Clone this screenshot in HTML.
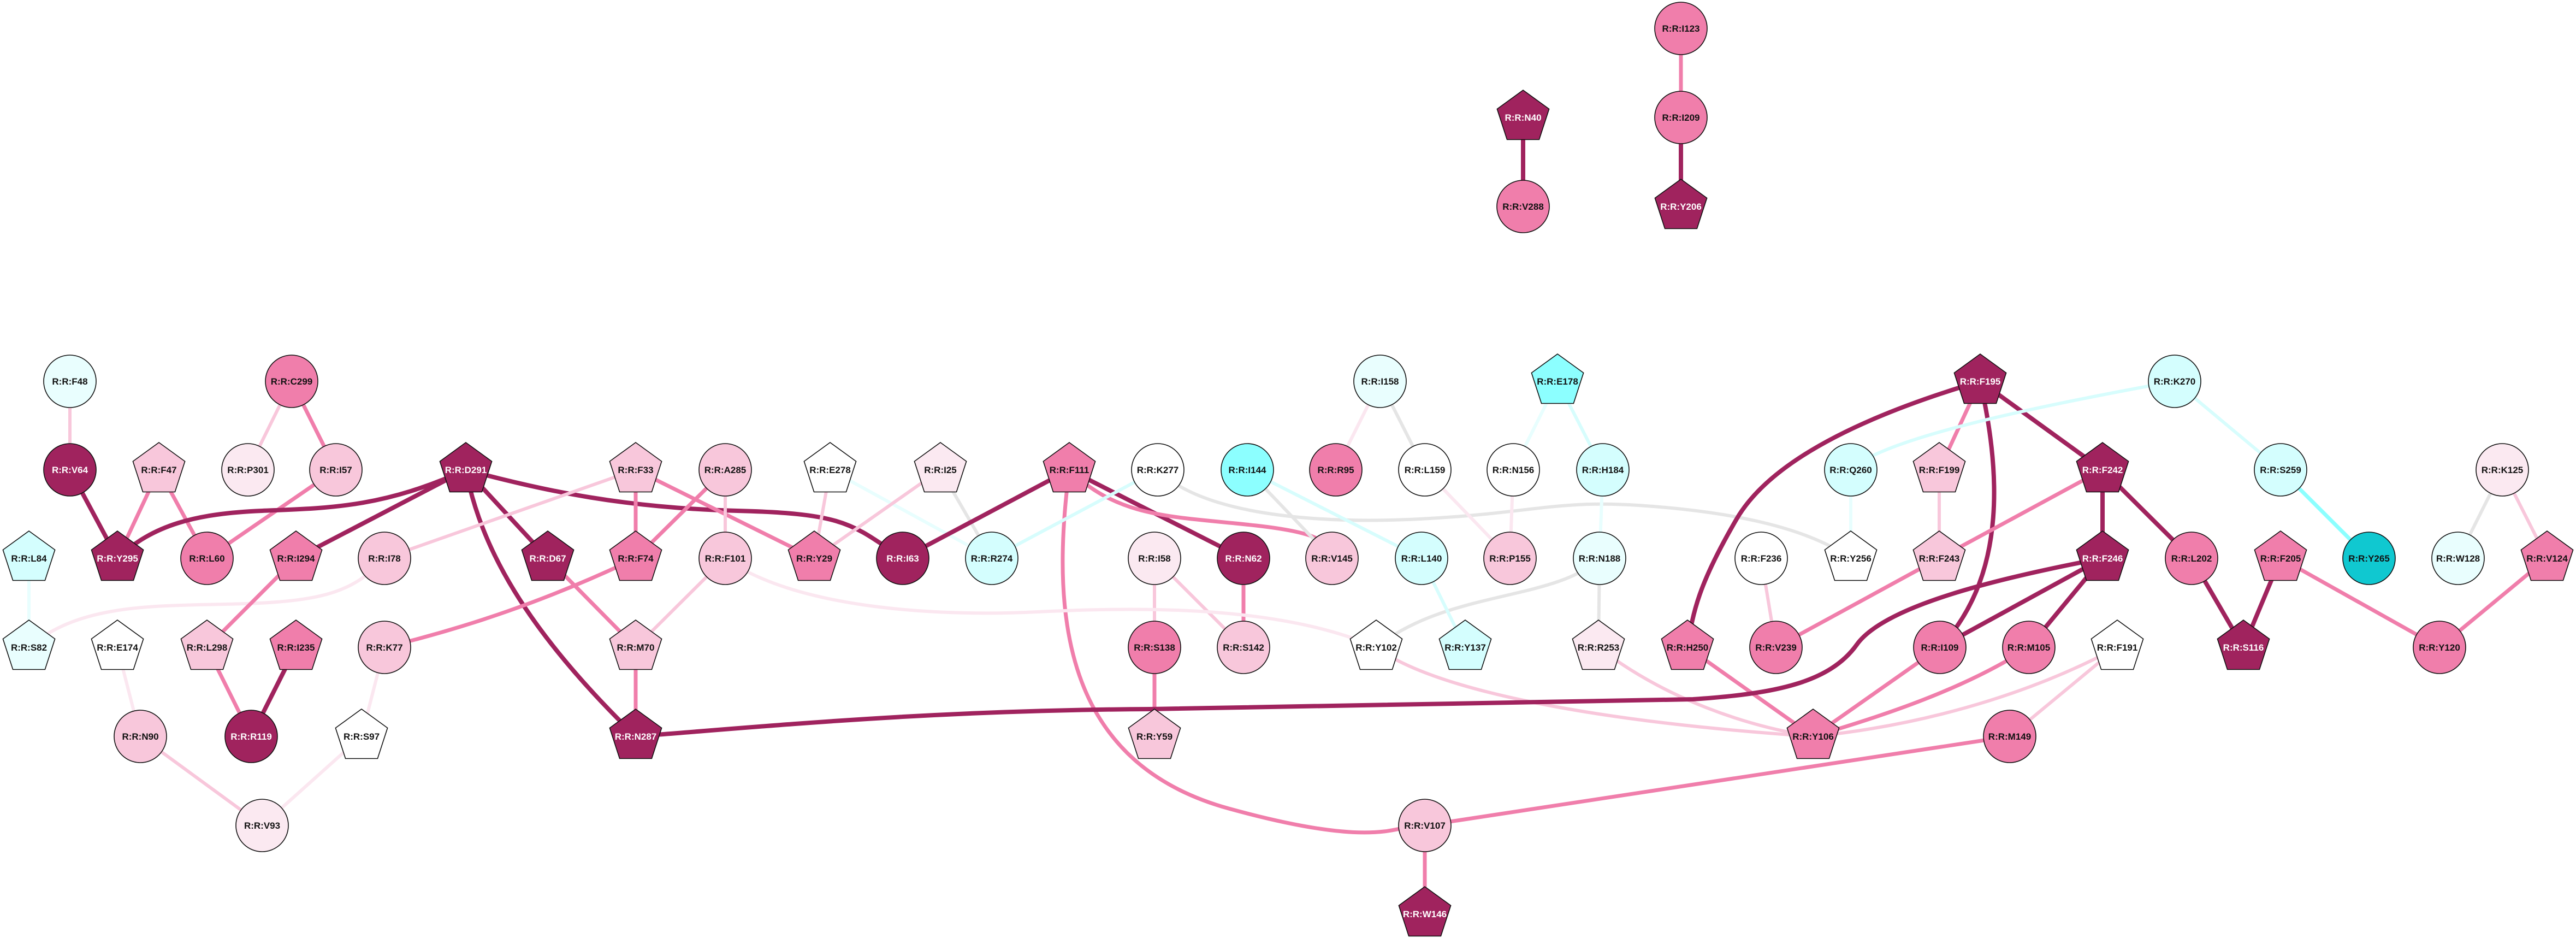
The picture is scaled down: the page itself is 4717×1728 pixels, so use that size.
<!DOCTYPE html>
<html><head><meta charset="utf-8"><style>
html,body{margin:0;padding:0;background:#fff;}
svg{display:block;}
text{font-family:"Liberation Sans",sans-serif;font-weight:bold;font-size:17px;text-anchor:middle;fill:#111;}
text.w{fill:#fff;}
.n{stroke:#111;stroke-width:1.6;}
path,line{fill:none;stroke-linecap:butt;}
.dk{stroke:#A0235E;stroke-width:8;}
.md{stroke:#F07EAB;stroke-width:7;}
.lp{stroke:#F8C7DB;stroke-width:6;}
.vl{stroke:#FBE7F0;stroke-width:6;}
.gy{stroke:#E5E5E5;stroke-width:6;}
.cy{stroke:#D7FDFD;stroke-width:6;}
.lc{stroke:#E8FEFE;stroke-width:6;}
.bc{stroke:#8CFFFF;stroke-width:7;}
</style></head><body>
<svg width="4717" height="1728" viewBox="0 0 4717 1728" xmlns="http://www.w3.org/2000/svg">
<defs><polygon id="p" class="n" points="0,-50 47.6,-15.5 29.4,40.5 -29.4,40.5 -47.6,-15.5"/></defs>
<line class="md" x1="3078" y1="52" x2="3078" y2="215"/>
<line class="dk" x1="3078" y1="215" x2="3078" y2="378"/>
<line class="dk" x1="2789" y1="215" x2="2789" y2="378"/>
<line class="lp" x1="128" y1="698" x2="128" y2="860"/>
<line class="dk" x1="128" y1="860" x2="215" y2="1022"/>
<line class="md" x1="291" y1="860" x2="215" y2="1022"/>
<line class="md" x1="291" y1="860" x2="379" y2="1022"/>
<line class="lp" x1="534" y1="698" x2="454" y2="860"/>
<line class="md" x1="534" y1="698" x2="615" y2="860"/>
<line class="md" x1="615" y1="860" x2="379" y2="1022"/>
<path class="dk" d="M853,860 C700,930 600,930 480,935 S280,960 215,1022"/>
<line class="dk" x1="853" y1="860" x2="542" y2="1022"/>
<line class="dk" x1="853" y1="860" x2="1003" y2="1022"/>
<path class="dk" d="M853,860 C880,1000 960,1150 1164,1348"/>
<path class="dk" d="M853,860 C1000,900 1150,930 1350,935 S1560,960 1653,1022"/>
<line class="lp" x1="1164" y1="860" x2="704" y2="1022"/>
<line class="md" x1="1164" y1="860" x2="1164" y2="1022"/>
<line class="md" x1="1164" y1="860" x2="1491" y2="1022"/>
<line class="md" x1="1328" y1="860" x2="1164" y2="1022"/>
<line class="lp" x1="1328" y1="860" x2="1328" y2="1022"/>
<line class="lp" x1="1520" y1="860" x2="1491" y2="1022"/>
<line class="lc" x1="1520" y1="860" x2="1816" y2="1022"/>
<line class="lp" x1="1722" y1="860" x2="1491" y2="1022"/>
<line class="gy" x1="1722" y1="860" x2="1816" y2="1022"/>
<line class="dk" x1="1958" y1="860" x2="1653" y2="1022"/>
<line class="dk" x1="1958" y1="860" x2="2277" y2="1022"/>
<path class="md" d="M1958,860 C2050,950 2150,945 2300,962 S2420,1000 2439,1022"/>
<path class="md" d="M1958,860 C1920,1150 1960,1400 2250,1480 S2560,1505 2609,1511"/>
<line class="cy" x1="2120" y1="860" x2="1816" y2="1022"/>
<path class="gy" d="M2120,860 C2200,940 2400,960 2600,950 S2850,915 3000,925 S3300,960 3389,1022"/>
<line class="gy" x1="2284" y1="860" x2="2439" y2="1022"/>
<line class="cy" x1="2284" y1="860" x2="2603" y2="1022"/>
<line class="vl" x1="2527" y1="698" x2="2446" y2="860"/>
<line class="gy" x1="2527" y1="698" x2="2609" y2="860"/>
<line class="vl" x1="2609" y1="860" x2="2765" y2="1022"/>
<line class="vl" x1="2771" y1="860" x2="2765" y2="1022"/>
<line class="lc" x1="2852" y1="698" x2="2771" y2="860"/>
<line class="cy" x1="2852" y1="698" x2="2935" y2="860"/>
<line class="lc" x1="2935" y1="860" x2="2929" y2="1022"/>
<path class="gy" d="M2929,1022 C2850,1100 2650,1080 2520,1185"/>
<line class="gy" x1="2929" y1="1022" x2="2927" y2="1185"/>
<line class="cy" x1="2603" y1="1022" x2="2683" y2="1185"/>
<line class="lp" x1="2114" y1="1022" x2="2114" y2="1185"/>
<line class="lp" x1="2114" y1="1022" x2="2277" y2="1185"/>
<line class="md" x1="2277" y1="1022" x2="2277" y2="1185"/>
<line class="md" x1="2114" y1="1185" x2="2114" y2="1348"/>
<line class="lp" x1="3225" y1="1022" x2="3252" y2="1185"/>
<path class="lp" d="M2520,1185 C2620,1260 2900,1320 3320,1348"/>
<path class="lp" d="M2927,1185 C3050,1280 3200,1330 3320,1348"/>
<line class="md" x1="3090" y1="1185" x2="3320" y2="1348"/>
<path class="dk" d="M3626,698 C3450,750 3250,830 3180,950 S3100,1120 3090,1185"/>
<line class="md" x1="3626" y1="698" x2="3551" y2="860"/>
<path class="dk" d="M3626,698 C3660,850 3680,1050 3552,1185"/>
<line class="dk" x1="3626" y1="698" x2="3850" y2="860"/>
<path class="cy" d="M3982,698 C3750,740 3450,800 3389,860"/>
<line class="cy" x1="3982" y1="698" x2="4176" y2="860"/>
<line class="lc" x1="3389" y1="860" x2="3389" y2="1022"/>
<line class="lp" x1="3551" y1="860" x2="3551" y2="1022"/>
<line class="md" x1="3850" y1="860" x2="3551" y2="1022"/>
<line class="dk" x1="3850" y1="860" x2="3850" y2="1022"/>
<line class="dk" x1="3850" y1="860" x2="4013" y2="1022"/>
<line class="md" x1="3551" y1="1022" x2="3252" y2="1185"/>
<path class="dk" d="M3850,1022 C3650,1060 3450,1110 3400,1180 S3250,1270 3100,1280 L2106,1298 C1700,1300 1400,1330 1164,1348"/>
<line class="dk" x1="3850" y1="1022" x2="3552" y2="1185"/>
<line class="dk" x1="3850" y1="1022" x2="3715" y2="1185"/>
<line class="dk" x1="4013" y1="1022" x2="4108" y2="1185"/>
<line class="dk" x1="4176" y1="1022" x2="4108" y2="1185"/>
<line class="md" x1="4176" y1="1022" x2="4467" y2="1185"/>
<line class="bc" x1="4176" y1="860" x2="4338" y2="1022"/>
<line class="gy" x1="4582" y1="860" x2="4501" y2="1022"/>
<line class="lp" x1="4582" y1="860" x2="4664" y2="1022"/>
<line class="md" x1="4664" y1="1022" x2="4467" y2="1185"/>
<line class="md" x1="3552" y1="1185" x2="3320" y2="1348"/>
<path class="md" d="M3715,1185 C3600,1260 3450,1310 3320,1348"/>
<path class="lp" d="M3877,1185 C3700,1280 3500,1330 3320,1348"/>
<line class="lp" x1="3877" y1="1185" x2="3680" y2="1348"/>
<line class="md" x1="3680" y1="1348" x2="2609" y2="1511"/>
<line class="md" x1="2609" y1="1511" x2="2609" y2="1673"/>
<line class="lc" x1="53" y1="1022" x2="53" y2="1185"/>
<path class="vl" d="M53,1185 C150,1100 300,1110 450,1105 S650,1080 704,1022"/>
<path class="vl" d="M1328,1022 C1450,1110 1700,1130 1900,1120 S2350,1110 2520,1185"/>
<line class="md" x1="542" y1="1022" x2="379" y2="1185"/>
<line class="md" x1="379" y1="1185" x2="460" y2="1348"/>
<line class="dk" x1="542" y1="1185" x2="460" y2="1348"/>
<path class="md" d="M1164,1022 C1000,1100 850,1150 704,1185"/>
<line class="vl" x1="704" y1="1185" x2="662" y2="1348"/>
<line class="vl" x1="215" y1="1185" x2="257" y2="1348"/>
<line class="lp" x1="257" y1="1348" x2="480" y2="1511"/>
<line class="vl" x1="662" y1="1348" x2="480" y2="1511"/>
<line class="md" x1="1003" y1="1022" x2="1164" y2="1185"/>
<line class="lp" x1="1328" y1="1022" x2="1164" y2="1185"/>
<line class="md" x1="1164" y1="1185" x2="1164" y2="1348"/>
<circle class="n" cx="3078" cy="52" r="48" fill="#F07EAB"/><text x="3078" y="58">R:R:I123</text>
<circle class="n" cx="3078" cy="215" r="48" fill="#F07EAB"/><text x="3078" y="221">R:R:I209</text>
<use href="#p" x="3078" y="378" fill="#A0235E"/><text class="w" x="3078" y="384">R:R:Y206</text>
<use href="#p" x="2789" y="215" fill="#A0235E"/><text class="w" x="2789" y="221">R:R:N40</text>
<circle class="n" cx="2789" cy="378" r="48" fill="#F07EAB"/><text x="2789" y="384">R:R:V288</text>
<circle class="n" cx="128" cy="698" r="48" fill="#E9FEFE"/><text x="128" y="704">R:R:F48</text>
<circle class="n" cx="534" cy="698" r="48" fill="#F07EAB"/><text x="534" y="704">R:R:C299</text>
<circle class="n" cx="2527" cy="698" r="48" fill="#E9FEFE"/><text x="2527" y="704">R:R:I158</text>
<use href="#p" x="2852" y="698" fill="#8CFFFF"/><text x="2852" y="704">R:R:E178</text>
<use href="#p" x="3626" y="698" fill="#A0235E"/><text class="w" x="3626" y="704">R:R:F195</text>
<circle class="n" cx="3982" cy="698" r="48" fill="#D4FEFE"/><text x="3982" y="704">R:R:K270</text>
<circle class="n" cx="128" cy="860" r="48" fill="#A0235E"/><text class="w" x="128" y="866">R:R:V64</text>
<use href="#p" x="291" y="860" fill="#F8C7DB"/><text x="291" y="866">R:R:F47</text>
<circle class="n" cx="454" cy="860" r="48" fill="#FBE9F1"/><text x="454" y="866">R:R:P301</text>
<circle class="n" cx="615" cy="860" r="48" fill="#F8C7DB"/><text x="615" y="866">R:R:I57</text>
<use href="#p" x="853" y="860" fill="#A0235E"/><text class="w" x="853" y="866">R:R:D291</text>
<use href="#p" x="1164" y="860" fill="#F8C7DB"/><text x="1164" y="866">R:R:F33</text>
<circle class="n" cx="1328" cy="860" r="48" fill="#F8C7DB"/><text x="1328" y="866">R:R:A285</text>
<use href="#p" x="1520" y="860" fill="#FFFFFF"/><text x="1520" y="866">R:R:E278</text>
<use href="#p" x="1722" y="860" fill="#FBE9F1"/><text x="1722" y="866">R:R:I25</text>
<use href="#p" x="1958" y="860" fill="#F07EAB"/><text x="1958" y="866">R:R:F111</text>
<circle class="n" cx="2120" cy="860" r="48" fill="#FFFFFF"/><text x="2120" y="866">R:R:K277</text>
<circle class="n" cx="2284" cy="860" r="48" fill="#8CFFFF"/><text x="2284" y="866">R:R:I144</text>
<circle class="n" cx="2446" cy="860" r="48" fill="#F07EAB"/><text x="2446" y="866">R:R:R95</text>
<circle class="n" cx="2609" cy="860" r="48" fill="#FFFFFF"/><text x="2609" y="866">R:R:L159</text>
<circle class="n" cx="2771" cy="860" r="48" fill="#FFFFFF"/><text x="2771" y="866">R:R:N156</text>
<circle class="n" cx="2935" cy="860" r="48" fill="#D4FEFE"/><text x="2935" y="866">R:R:H184</text>
<circle class="n" cx="3389" cy="860" r="48" fill="#D4FEFE"/><text x="3389" y="866">R:R:Q260</text>
<use href="#p" x="3551" y="860" fill="#F8C7DB"/><text x="3551" y="866">R:R:F199</text>
<use href="#p" x="3850" y="860" fill="#A0235E"/><text class="w" x="3850" y="866">R:R:F242</text>
<circle class="n" cx="4176" cy="860" r="48" fill="#D4FEFE"/><text x="4176" y="866">R:R:S259</text>
<circle class="n" cx="4582" cy="860" r="48" fill="#FBE9F1"/><text x="4582" y="866">R:R:K125</text>
<use href="#p" x="53" y="1022" fill="#D4FEFE"/><text x="53" y="1028">R:R:L84</text>
<use href="#p" x="215" y="1022" fill="#A0235E"/><text class="w" x="215" y="1028">R:R:Y295</text>
<circle class="n" cx="379" cy="1022" r="48" fill="#F07EAB"/><text x="379" y="1028">R:R:L60</text>
<use href="#p" x="542" y="1022" fill="#F07EAB"/><text x="542" y="1028">R:R:I294</text>
<circle class="n" cx="704" cy="1022" r="48" fill="#F8C7DB"/><text x="704" y="1028">R:R:I78</text>
<use href="#p" x="1003" y="1022" fill="#A0235E"/><text class="w" x="1003" y="1028">R:R:D67</text>
<use href="#p" x="1164" y="1022" fill="#F07EAB"/><text x="1164" y="1028">R:R:F74</text>
<circle class="n" cx="1328" cy="1022" r="48" fill="#F8C7DB"/><text x="1328" y="1028">R:R:F101</text>
<use href="#p" x="1491" y="1022" fill="#F07EAB"/><text x="1491" y="1028">R:R:Y29</text>
<circle class="n" cx="1653" cy="1022" r="48" fill="#A0235E"/><text class="w" x="1653" y="1028">R:R:I63</text>
<circle class="n" cx="1816" cy="1022" r="48" fill="#D4FEFE"/><text x="1816" y="1028">R:R:R274</text>
<circle class="n" cx="2114" cy="1022" r="48" fill="#FBE9F1"/><text x="2114" y="1028">R:R:I58</text>
<circle class="n" cx="2277" cy="1022" r="48" fill="#A0235E"/><text class="w" x="2277" y="1028">R:R:N62</text>
<circle class="n" cx="2439" cy="1022" r="48" fill="#F8C7DB"/><text x="2439" y="1028">R:R:V145</text>
<circle class="n" cx="2603" cy="1022" r="48" fill="#D4FEFE"/><text x="2603" y="1028">R:R:L140</text>
<circle class="n" cx="2765" cy="1022" r="48" fill="#F8C7DB"/><text x="2765" y="1028">R:R:P155</text>
<circle class="n" cx="2929" cy="1022" r="48" fill="#E9FEFE"/><text x="2929" y="1028">R:R:N188</text>
<circle class="n" cx="3225" cy="1022" r="48" fill="#FFFFFF"/><text x="3225" y="1028">R:R:F236</text>
<use href="#p" x="3389" y="1022" fill="#FFFFFF"/><text x="3389" y="1028">R:R:Y256</text>
<use href="#p" x="3551" y="1022" fill="#F8C7DB"/><text x="3551" y="1028">R:R:F243</text>
<use href="#p" x="3850" y="1022" fill="#A0235E"/><text class="w" x="3850" y="1028">R:R:F246</text>
<circle class="n" cx="4013" cy="1022" r="48" fill="#F07EAB"/><text x="4013" y="1028">R:R:L202</text>
<use href="#p" x="4176" y="1022" fill="#F07EAB"/><text x="4176" y="1028">R:R:F205</text>
<circle class="n" cx="4338" cy="1022" r="48" fill="#10C8D0"/><text x="4338" y="1028">R:R:Y265</text>
<circle class="n" cx="4501" cy="1022" r="48" fill="#E9FEFE"/><text x="4501" y="1028">R:R:W128</text>
<use href="#p" x="4664" y="1022" fill="#F07EAB"/><text x="4664" y="1028">R:R:V124</text>
<use href="#p" x="53" y="1185" fill="#E9FEFE"/><text x="53" y="1191">R:R:S82</text>
<use href="#p" x="215" y="1185" fill="#FFFFFF"/><text x="215" y="1191">R:R:E174</text>
<use href="#p" x="379" y="1185" fill="#F8C7DB"/><text x="379" y="1191">R:R:L298</text>
<use href="#p" x="542" y="1185" fill="#F07EAB"/><text x="542" y="1191">R:R:I235</text>
<circle class="n" cx="704" cy="1185" r="48" fill="#F8C7DB"/><text x="704" y="1191">R:R:K77</text>
<use href="#p" x="1164" y="1185" fill="#F8C7DB"/><text x="1164" y="1191">R:R:M70</text>
<circle class="n" cx="2114" cy="1185" r="48" fill="#F07EAB"/><text x="2114" y="1191">R:R:S138</text>
<circle class="n" cx="2277" cy="1185" r="48" fill="#F8C7DB"/><text x="2277" y="1191">R:R:S142</text>
<use href="#p" x="2520" y="1185" fill="#FFFFFF"/><text x="2520" y="1191">R:R:Y102</text>
<use href="#p" x="2683" y="1185" fill="#D4FEFE"/><text x="2683" y="1191">R:R:Y137</text>
<use href="#p" x="2927" y="1185" fill="#FBE9F1"/><text x="2927" y="1191">R:R:R253</text>
<use href="#p" x="3090" y="1185" fill="#F07EAB"/><text x="3090" y="1191">R:R:H250</text>
<circle class="n" cx="3252" cy="1185" r="48" fill="#F07EAB"/><text x="3252" y="1191">R:R:V239</text>
<circle class="n" cx="3552" cy="1185" r="48" fill="#F07EAB"/><text x="3552" y="1191">R:R:I109</text>
<circle class="n" cx="3715" cy="1185" r="48" fill="#F07EAB"/><text x="3715" y="1191">R:R:M105</text>
<use href="#p" x="3877" y="1185" fill="#FFFFFF"/><text x="3877" y="1191">R:R:F191</text>
<use href="#p" x="4108" y="1185" fill="#A0235E"/><text class="w" x="4108" y="1191">R:R:S116</text>
<circle class="n" cx="4467" cy="1185" r="48" fill="#F07EAB"/><text x="4467" y="1191">R:R:Y120</text>
<circle class="n" cx="257" cy="1348" r="48" fill="#F8C7DB"/><text x="257" y="1354">R:R:N90</text>
<circle class="n" cx="460" cy="1348" r="48" fill="#A0235E"/><text class="w" x="460" y="1354">R:R:R119</text>
<use href="#p" x="662" y="1348" fill="#FFFFFF"/><text x="662" y="1354">R:R:S97</text>
<use href="#p" x="1164" y="1348" fill="#A0235E"/><text class="w" x="1164" y="1354">R:R:N287</text>
<use href="#p" x="2114" y="1348" fill="#F8C7DB"/><text x="2114" y="1354">R:R:Y59</text>
<use href="#p" x="3320" y="1348" fill="#F07EAB"/><text x="3320" y="1354">R:R:Y106</text>
<circle class="n" cx="3680" cy="1348" r="48" fill="#F07EAB"/><text x="3680" y="1354">R:R:M149</text>
<circle class="n" cx="480" cy="1511" r="48" fill="#FBE9F1"/><text x="480" y="1517">R:R:V93</text>
<circle class="n" cx="2609" cy="1511" r="48" fill="#F8C7DB"/><text x="2609" y="1517">R:R:V107</text>
<use href="#p" x="2609" y="1673" fill="#A0235E"/><text class="w" x="2609" y="1679">R:R:W146</text>
</svg>
</body></html>
